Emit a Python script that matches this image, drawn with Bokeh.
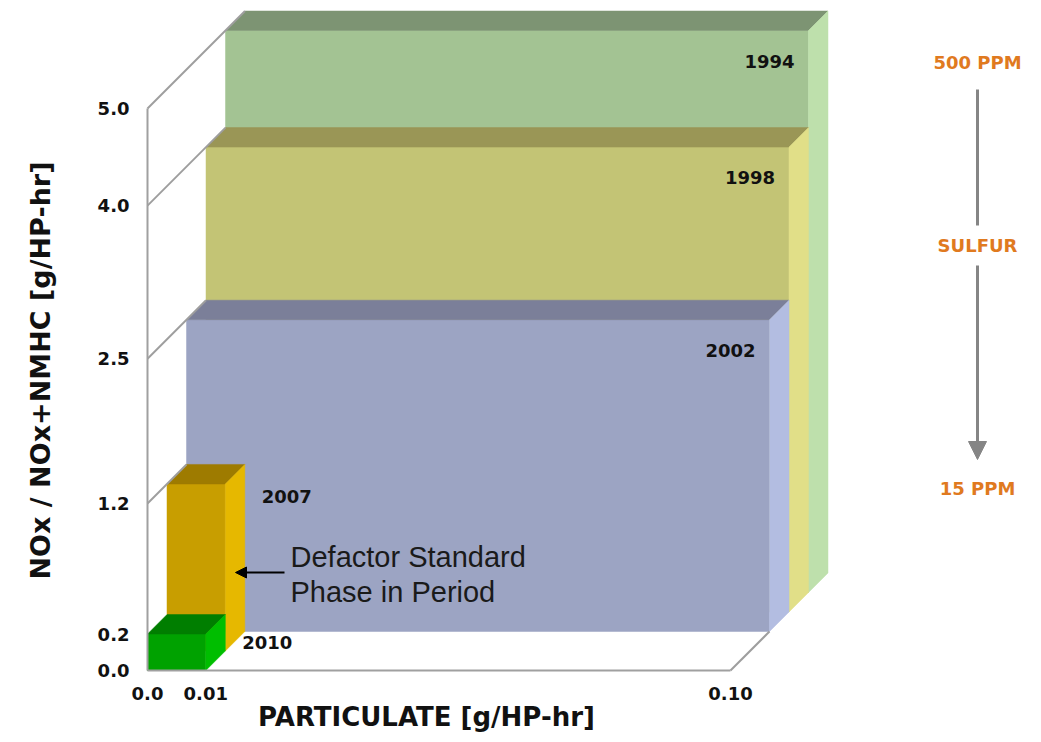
import math
from bokeh.plotting import figure
from bokeh.models import FixedTicker, Label, Arrow, NormalHead
from bokeh.embed import file_html
from bokeh.resources import INLINE

# ---------------- data ----------------
years = ["1994", "1998", "2002", "2007", "2010"]
nox = [5.0, 4.0, 2.5, 1.2, 0.2]            # NOx / NOx+NMHC [g/HP-hr]
pm = [0.10, 0.10, 0.10, 0.01, 0.01]        # particulate [g/HP-hr]
y_tick_values = [0.0, 0.2, 1.2, 2.5, 4.0, 5.0]
y_tick_labels = ["0.0", "0.2", "1.2", "2.5", "4.0", "5.0"]
x_tick_values = [0.0, 0.01, 0.10]
x_tick_labels = ["0.0", "0.01", "0.10"]
sulfur_labels = ["500 PPM", "SULFUR", "15 PPM"]
note_lines = ["Defactor Standard", "Phase in Period"]
x_title = "PARTICULATE [g/HP-hr]"
y_title = "NOx / NOx+NMHC [g/HP-hr]"

front_colors = ["#A3C393", "#C3C475", "#9CA4C3", "#C89E00", "#00A200"]
top_colors = ["#7D9473", "#9A9656", "#7B7F99", "#9E7B00", "#007E00"]
side_colors = ["#BEE0AC", "#E1DF88", "#B3BDE1", "#E6B800", "#00BE00"]

# ---------------- scales / layout ----------------
GAMMA = 0.85                      # compressed vertical scale of the original
def sy(v):
    return float(v) ** GAMMA

CANVAS_W, CANVAS_H = 1033, 734
PX_X = 5830.0                     # px per g/HP-hr
PX_Y = 562.0 / sy(5.0)            # px per scaled unit
DEPTH = 19.5                      # px per depth step
DX = DEPTH / PX_X
DY = DEPTH / PX_Y
LEFT, BOTTOM = 147, 670           # px of the data origin on the canvas

def px2x(px):
    return (px - LEFT) / PX_X

def px2y(py):
    return (BOTTOM - py) / PX_Y

p = figure(frame_width=CANVAS_W, frame_height=CANVAS_H,
           x_range=(px2x(0), px2x(CANVAS_W)), y_range=(px2y(CANVAS_H), px2y(0)),
           output_backend="svg", toolbar_location=None, min_border=0)
p.outline_line_color = None
p.xgrid.visible = False
p.ygrid.visible = False
p.background_fill_color = "white"

# ---------------- 3D boxes ----------------
n = len(years)
levels = [n - 1 - i for i in range(n)]   # depth level (0 = front)
xs, ys, cols = [], [], []
for i in range(n):
    lvl = levels[i]
    ox, oy = lvl * DX, lvl * DY
    w, h = pm[i], sy(nox[i])
    xs.append([ox, ox + w, ox + w, ox]); ys.append([oy, oy, oy + h, oy + h]); cols.append(front_colors[i])
    xs.append([ox, ox + w, ox + w + DX, ox + DX]); ys.append([oy + h, oy + h, oy + h + DY, oy + h + DY]); cols.append(top_colors[i])
    xs.append([ox + w, ox + w + DX, ox + w + DX, ox + w]); ys.append([oy, oy + DY, oy + h + DY, oy + h]); cols.append(side_colors[i])
p.patches(xs, ys, fill_color=cols, line_color=cols, line_width=0.5)

# guide lines from the axis to the boxes' top-left edges + floor edge
gx, gy = [], []
for i in range(n):
    lvl = levels[i]
    if lvl == 0:
        continue
    h = sy(nox[i])
    gx.append([0, (lvl + 1) * DX]); gy.append([h, h + (lvl + 1) * DY])
wide_front = min(levels[i] for i in range(n) if pm[i] == max(pm))
gx.append([max(pm), max(pm) + wide_front * DX]); gy.append([0, wide_front * DY])
p.multi_line(gx, gy, line_color="#9E9E9E", line_width=2)

# ---------------- axes (drawn at the data origin) ----------------
AX_GRAY = "#A0A0A0"
yt = [sy(v) for v in y_tick_values]
p.yaxis.fixed_location = 0
p.xaxis.fixed_location = 0
p.yaxis.ticker = FixedTicker(ticks=yt)
p.yaxis.major_label_overrides = {t: l for t, l in zip(yt, y_tick_labels)}
p.yaxis.bounds = (0, sy(max(nox)))
p.xaxis.ticker = FixedTicker(ticks=x_tick_values)
p.xaxis.major_label_overrides = {t: l for t, l in zip(x_tick_values, x_tick_labels)}
p.xaxis.bounds = (0, max(pm))
for ax in (p.xaxis, p.yaxis):
    ax.axis_line_color = AX_GRAY
    ax.axis_line_width = 2
    ax.major_tick_line_color = None
    ax.minor_tick_line_color = None
    ax.major_label_text_font = "DejaVu Sans"
    ax.major_label_text_font_style = "bold"
    ax.major_label_text_font_size = "18px"
    ax.major_label_text_color = "#111111"
p.yaxis.major_label_standoff = 12
p.xaxis.major_label_standoff = 10

# ---------------- year labels ----------------
label_offsets = [(-14, 31, "right"), (-14, 30, "right"), (-14, 31, "right"),
                 (17, 13, "left"), (17, 8, "left")]
for i in range(n):
    lvl = levels[i]
    w, h = pm[i], sy(nox[i])
    offx, offy, align = label_offsets[i]
    if align == "right":
        lx = lvl * DX + w + offx / PX_X
    else:
        lx = lvl * DX + w + DX + offx / PX_X
    ly = lvl * DY + h - offy / PX_Y
    p.add_layout(Label(x=lx, y=ly, text=years[i], text_align=align, text_baseline="middle",
                       text_font="DejaVu Sans", text_font_style="bold",
                       text_font_size="18px", text_color="#111111"))

# ---------------- note with arrow ----------------
for line, py in zip(note_lines, [556, 591]):
    p.add_layout(Label(x=px2x(290), y=px2y(py), text=line, text_align="left",
                       text_baseline="middle", text_font="Liberation Sans",
                       text_font_size="29px", text_color="#1A1A1A"))
p.add_layout(Arrow(x_start=px2x(284), y_start=px2y(572), x_end=px2x(235), y_end=px2y(572),
                   line_color="black", line_width=2,
                   end=NormalHead(size=11, fill_color="black", line_color="black")))

# ---------------- sulfur annotation ----------------
ORANGE = "#E07A1F"
for txt, py in zip(sulfur_labels, [62, 245, 488]):
    p.add_layout(Label(x=px2x(977), y=px2y(py), text=txt, text_align="center",
                       text_baseline="middle", text_font="DejaVu Sans",
                       text_font_style="bold", text_font_size="18px", text_color=ORANGE))
p.add_layout(Arrow(x_start=px2x(977), y_start=px2y(89), x_end=px2x(977), y_end=px2y(225),
                   line_color="#858585", line_width=3, end=None))
p.add_layout(Arrow(x_start=px2x(977), y_start=px2y(265), x_end=px2x(977), y_end=px2y(459),
                   line_color="#858585", line_width=3,
                   end=NormalHead(size=18, fill_color="#858585", line_color="#858585")))

# ---------------- axis titles ----------------
p.add_layout(Label(x=px2x(426), y=px2y(716), text=x_title, text_align="center",
                   text_baseline="middle", text_font="DejaVu Sans", text_font_style="bold",
                   text_font_size="26px", text_color="#111111"))
p.add_layout(Label(x=px2x(40), y=px2y(370), text=y_title, angle=math.pi / 2,
                   text_align="center", text_baseline="middle", text_font="DejaVu Sans",
                   text_font_style="bold", text_font_size="27px", text_color="#111111"))

open("out.html", "w").write(file_html(p, INLINE))
